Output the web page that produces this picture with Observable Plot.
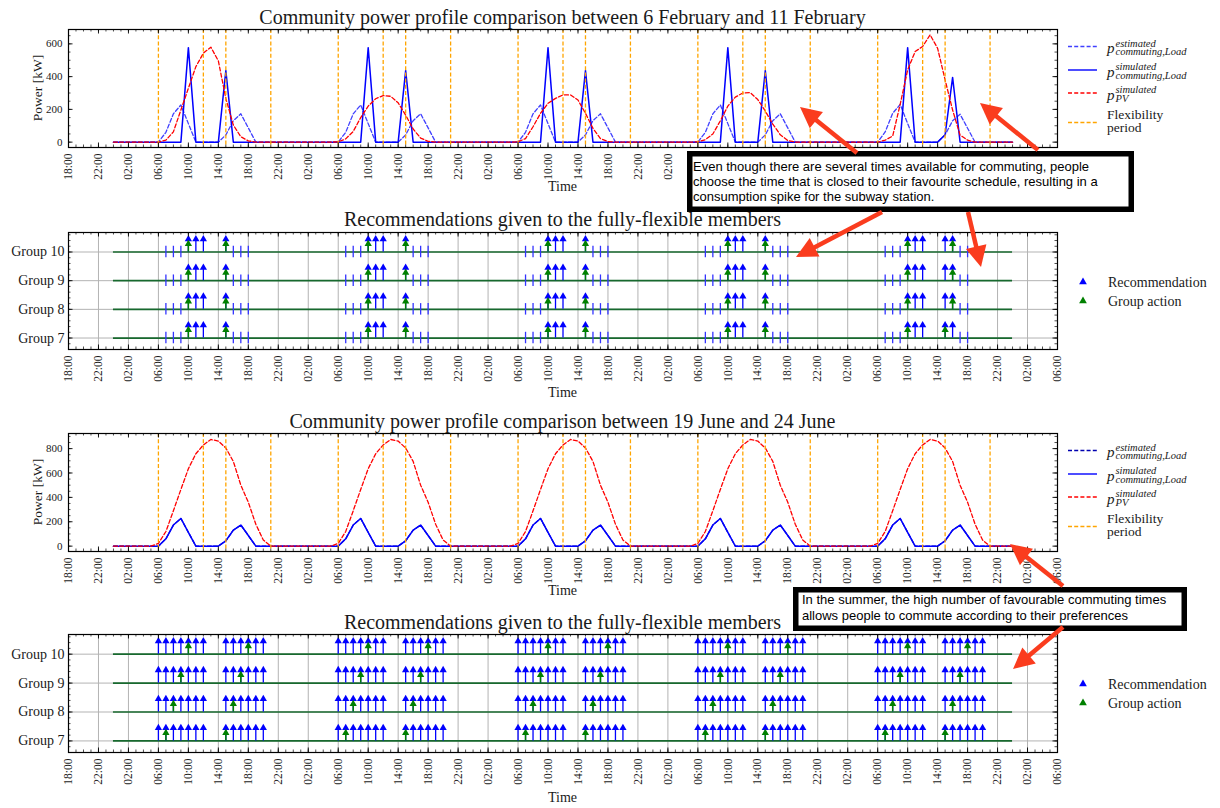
<!DOCTYPE html>
<html><head><meta charset="utf-8">
<script src="https://cdn.jsdelivr.net/npm/d3@7"></script>
<script src="https://cdn.jsdelivr.net/npm/@observablehq/plot@0.6"></script>
<style>
html,body{margin:0;padding:0;background:#fff;}
body{width:1220px;height:808px;position:relative;overflow:hidden;}
svg{font-family:"Liberation Serif",serif;}
</style>
</head><body>
<script>
// ---------------- DATA ----------------
// time = hours since 00:00 of the first day (6 Feb / 19 June)
const timeTickHours = [-6,-2,2,6,10,14,18,22,26,30,34,38,42,46,50,54,58,62,66,70,74,78,82,86,90,94,98,102,106,110,114,118,122,126];
const timeTickLabels = ["18:00","22:00","02:00","06:00","10:00","14:00","18:00","22:00","02:00","06:00","10:00","14:00","18:00","22:00","02:00","06:00","10:00","14:00","18:00","22:00","02:00","06:00","10:00","14:00","18:00","22:00","02:00","06:00","10:00","14:00","18:00","22:00","02:00","06:00"];
const timeDomain = [-6, 126];
const seriesEndHour = 120;      // series run until 00:00 after the 5th day
const seriesEndValue = 0;
const flexibilityHours = [6, 12, 15, 21]; // flexibility period limits each day
const dayCount = 5;

const groups = [7, 8, 9, 10];
const groupLabels = ["Group 7", "Group 8", "Group 9", "Group 10"];
const powerTicksFeb = [0, 200, 400, 600];
const powerTicksJune = [0, 200, 400, 600, 800];

// hourly values (00:00 .. 23:00) per day, kW
const febEstimatedLoad = [
  [0,0,0,0,0,0,0,60,173,227,113,0,0,0,0,44,131,173,87,0,0,0,0,0],
  [0,0,0,0,0,0,0,60,173,227,113,0,0,0,0,44,131,173,87,0,0,0,0,0],
  [0,0,0,0,0,0,0,60,173,227,113,0,0,0,0,44,131,173,87,0,0,0,0,0],
  [0,0,0,0,0,0,0,60,173,227,113,0,0,0,0,44,131,173,87,0,0,0,0,0],
  [0,0,0,0,0,0,0,62,176,230,113,0,0,0,0,44,131,170,85,0,0,0,0,0]
];
const febSimulatedLoad = [
  [0,0,0,0,0,0,0,0,0,0,577,0,0,0,0,437,0,0,0,0,0,0,0,0],
  [0,0,0,0,0,0,0,0,0,0,577,0,0,0,0,437,0,0,0,0,0,0,0,0],
  [0,0,0,0,0,0,0,0,0,0,577,0,0,0,0,437,0,0,0,0,0,0,0,0],
  [0,0,0,0,0,0,0,0,0,0,577,0,0,0,0,437,0,0,0,0,0,0,0,0],
  [0,0,0,0,0,0,0,0,0,0,577,0,0,0,0,45,395,0,0,0,0,0,0,0]
];
const febPV = [
  [0,0,0,0,0,0,0,12,63,196,329,461,543,580,496,267,104,33,8,0,0,0,0,0],
  [0,0,0,0,0,0,2,20,65,150,220,265,284,280,240,165,80,25,5,0,0,0,0,0],
  [0,0,0,0,0,0,2,22,94,176,237,267,288,288,257,176,84,22,3,0,0,0,0,0],
  [0,0,0,0,0,0,2,15,50,130,220,275,300,302,260,190,110,45,10,0,0,0,0,0],
  [0,0,0,0,0,0,0,12,37,230,441,553,584,655,573,380,196,43,12,0,0,0,0,0]
];
const juneEstimatedLoad = [
  [0,0,0,0,0,0,0,60,173,227,113,0,0,0,0,44,131,173,87,0,0,0,0,0],
  [0,0,0,0,0,0,0,60,173,227,113,0,0,0,0,44,131,173,87,0,0,0,0,0],
  [0,0,0,0,0,0,0,60,173,227,113,0,0,0,0,44,131,173,87,0,0,0,0,0],
  [0,0,0,0,0,0,0,60,173,227,113,0,0,0,0,44,131,173,87,0,0,0,0,0],
  [0,0,0,0,0,0,0,60,173,227,113,0,0,0,0,44,131,173,87,0,0,0,0,0]
];
const juneSimulatedLoad = [
  [0,0,0,0,0,0,0,60,173,227,113,0,0,0,0,44,131,173,87,0,0,0,0,0],
  [0,0,0,0,0,0,0,60,173,227,113,0,0,0,0,44,131,173,87,0,0,0,0,0],
  [0,0,0,0,0,0,0,60,173,227,113,0,0,0,0,44,131,173,87,0,0,0,0,0],
  [0,0,0,0,0,0,0,60,173,227,113,0,0,0,0,44,131,173,87,0,0,0,0,0],
  [0,0,0,0,0,0,0,60,173,227,113,0,0,0,0,44,131,173,87,0,0,0,0,0]
];
const junePV = [
  [0,0,0,0,0,0,22,120,290,465,635,758,830,875,862,805,695,500,360,180,50,0,0,0],
  [0,0,0,0,0,0,22,120,290,465,635,758,830,875,862,805,695,500,360,180,50,0,0,0],
  [0,0,0,0,0,0,22,120,290,465,635,758,830,875,862,805,695,500,360,180,50,0,0,0],
  [0,0,0,0,0,0,22,120,290,465,635,758,830,875,862,805,695,500,360,180,50,0,0,0],
  [0,0,0,0,0,0,22,120,290,465,635,758,830,875,862,805,695,500,360,180,50,0,0,0]
];

// recommendation hours per day (same for every group)
const febRecommended = [[10,11,12,15],[10,11,12,15],[10,11,12,15],[10,11,12,15],[10,11,12,15,16]];
const febNotRecommended = [[7,8,9,16,17,18],[7,8,9,16,17,18],[7,8,9,16,17,18],[7,8,9,16,17,18],[7,8,9,17,18]];
const febActionsGroup10 = [[10,15],[10,15],[10,15],[10,15],[10,16]];
const febActionsGroup9  = [[10,15],[10,15],[10,15],[10,15],[10,16]];
const febActionsGroup8  = [[10,15],[10,15],[10,15],[10,15],[10,16]];
const febActionsGroup7  = [[10,15],[10,15],[10,15],[10,15],[10,15]];

const juneRecommended = [
  [6,7,8,9,10,11,12,15,16,17,18,19,20],[6,7,8,9,10,11,12,15,16,17,18,19,20],
  [6,7,8,9,10,11,12,15,16,17,18,19,20],[6,7,8,9,10,11,12,15,16,17,18,19,20],
  [6,7,8,9,10,11,12,15,16,17,18,19,20]];
const juneActionsGroup10 = [[10,18],[10,18],[10,18],[10,18],[10,18]];
const juneActionsGroup9  = [[9,17],[9,17],[9,17],[9,17],[9,17]];
const juneActionsGroup8  = [[8,16],[8,16],[8,16],[8,16],[8,16]];
const juneActionsGroup7  = [[7,15],[7,15],[7,15],[7,15],[7,15]];

const titles = [
  "Community power profile comparison between 6 February and 11 February",
  "Recommendations given to the fully-flexible members",
  "Community power profile comparison between 19 June and 24 June",
  "Recommendations given to the fully-flexible members"
];
const annotation1 = ["Even though there are several times available for commuting, people",
  "choose the time that is closed to their favourite schedule, resulting in a",
  "consumption spike for the subway station."];
const annotation2 = ["In the summer, the high number of favourable commuting times",
  "allows people to commute according to their preferences"];

// ---------------- HELPERS ----------------
function toSeries(days) {
  const pts = [];
  days.forEach((vals, d) => vals.forEach((v, h) => pts.push({t: d * 24 + h, v})));
  pts.push({t: seriesEndHour, v: seriesEndValue});
  return pts;
}
function hourRows(days, g) {
  const rows = [];
  days.forEach((hs, d) => hs.forEach(h => rows.push({t: d * 24 + h, g})));
  return rows;
}
const flexLines = [];
for (let d = 0; d < dayCount; d++) flexibilityHours.forEach(h => flexLines.push(d * 24 + h));
const tickLabelOf = new Map(timeTickHours.map((h, i) => [h, timeTickLabels[i]]));
const minorHours = d3.range(timeDomain[0], timeDomain[1] + 1, 1);

const W = 1220, ML = 68, MR = 163, FW = W - ML - MR;
const MT = 6, MB = 44;
const BLUE = "#0000ff", RED = "#ff0000", ORANGE = "#ffa500", GREEN = "#008000", BASE = "#17692e";

function frameTicks(H, yMajor, yMinor) {
  return [
    Plot.tickX(timeTickHours, {x: d => d, insetTop: H - 4.5, stroke: "#000", strokeWidth: 0.9}),
    Plot.tickX(timeTickHours, {x: d => d, insetBottom: H - 4.5, stroke: "#000", strokeWidth: 0.9}),
    Plot.tickX(minorHours, {x: d => d, insetTop: H - 2.5, stroke: "#000", strokeWidth: 0.7}),
    Plot.tickX(minorHours, {x: d => d, insetBottom: H - 2.5, stroke: "#000", strokeWidth: 0.7}),
    Plot.tickY(yMajor, {y: d => d, insetRight: FW - 4.5, stroke: "#000", strokeWidth: 0.9}),
    Plot.tickY(yMajor, {y: d => d, insetLeft: FW - 4.5, stroke: "#000", strokeWidth: 0.9}),
    Plot.tickY(yMinor, {y: d => d, insetRight: FW - 2.5, stroke: "#000", strokeWidth: 0.7}),
    Plot.tickY(yMinor, {y: d => d, insetLeft: FW - 2.5, stroke: "#000", strokeWidth: 0.7}),
    Plot.frame({stroke: "#000", strokeWidth: 1.2}),
    Plot.axisX(timeTickHours, {anchor: "bottom", tickSize: 0, tickPadding: 6, tickRotate: -90,
      tickFormat: d => tickLabelOf.get(d), label: null, fontSize: 11.5})
  ];
}
function place(svg, top) {
  svg.style.position = "absolute";
  svg.style.left = "0px";
  svg.style.top = (top - MT) + "px";
  document.body.appendChild(svg);
}
function powerPanel(top, H, est, sim, pv, estStyle, yDomain, yMajor) {
  const yMinor = d3.range(0, yDomain[1], 50);
  const svg = Plot.plot({
    width: W, height: MT + H + MB, marginTop: MT, marginBottom: MB, marginLeft: ML, marginRight: MR,
    x: {domain: timeDomain}, y: {domain: yDomain},
    style: {fontFamily: "Liberation Serif, serif", fontSize: "11px", color: "#1a1a1a", background: "transparent", overflow: "visible"},
    marks: [
      Plot.line(toSeries(est), {x: "t", y: "v", stroke: estStyle.color, strokeWidth: 1.3, strokeDasharray: "4,2.2"}),
      Plot.line(toSeries(sim), {x: "t", y: "v", stroke: BLUE, strokeWidth: 1.5}),
      Plot.line(toSeries(pv), {x: "t", y: "v", stroke: RED, strokeWidth: 1.3, strokeDasharray: "4,2.2"}),
      Plot.ruleX(flexLines, {x: d => d, stroke: ORANGE, strokeWidth: 1.3, strokeDasharray: "4,2.2"}),
      ...frameTicks(H, yMajor, yMinor),
      Plot.axisY(yMajor, {anchor: "left", tickSize: 0, tickPadding: 6, label: null, fontSize: 11})
    ]
  });
  place(svg, top);
}
function recPanel(top, H, recommended, notRecommended, actionsByGroup) {
  const yDomain = [6.6, 10.68];
  const yMinor = d3.range(6.6, 10.7, 0.2);
  const recRows = [], notRows = [], actRows = [];
  groups.forEach(g => {
    recRows.push(...hourRows(recommended, g));
    if (notRecommended) notRows.push(...hourRows(notRecommended, g));
    actRows.push(...hourRows(actionsByGroup[g], g));
  });
  const svg = Plot.plot({
    width: W, height: MT + H + MB, marginTop: MT, marginBottom: MB, marginLeft: ML, marginRight: MR,
    x: {domain: timeDomain}, y: {domain: yDomain},
    style: {fontFamily: "Liberation Serif, serif", fontSize: "11px", color: "#1a1a1a", background: "transparent", overflow: "visible"},
    marks: [
      Plot.ruleX(timeTickHours, {x: d => d, stroke: "#b3b3b3", strokeWidth: 1}),
      Plot.ruleY(groups, {y: d => d, stroke: "#b3b3b3", strokeWidth: 1}),
      Plot.ruleY(groups, {y: d => d, x1: 0, x2: seriesEndHour, stroke: BASE, strokeWidth: 1.7}),
      Plot.ruleX(notRows, {x: "t", y1: d => d.g - 0.2, y2: d => d.g + 0.2, stroke: "#3333ff", strokeWidth: 1.3}),
      Plot.ruleX(recRows, {x: "t", y1: "g", y2: d => d.g + 0.45, stroke: BLUE, strokeWidth: 1.3}),
      Plot.dot(recRows, {x: "t", y: d => d.g + 0.45, symbol: "triangle", r: 2.7, fill: BLUE}),
      Plot.ruleX(actRows, {x: "t", y1: "g", y2: d => d.g + 0.28, stroke: GREEN, strokeWidth: 1.5}),
      Plot.dot(actRows, {x: "t", y: d => d.g + 0.28, symbol: "triangle", r: 2.7, fill: GREEN}),
      ...frameTicks(H, groups, yMinor),
      Plot.axisY(groups, {anchor: "left", tickSize: 0, tickPadding: 4, label: null, fontSize: 14,
        tickFormat: d => groupLabels[groups.indexOf(d)]})
    ]
  });
  place(svg, top);
}

// ---------------- PANELS ----------------
const frameTops = [29, 232, 433, 634];
const frameH = 118;
powerPanel(frameTops[0], frameH, febEstimatedLoad, febSimulatedLoad, febPV, {color: "#4040ff"}, [-32.75, 687.75], powerTicksFeb);
recPanel(frameTops[1], 117, febRecommended, febNotRecommended,
  {10: febActionsGroup10, 9: febActionsGroup9, 8: febActionsGroup8, 7: febActionsGroup7});
powerPanel(frameTops[2], frameH, juneEstimatedLoad, juneSimulatedLoad, junePV, {color: "#0000b0"}, [-44, 924], powerTicksJune);
recPanel(frameTops[3], frameH, juneRecommended, null,
  {10: juneActionsGroup10, 9: juneActionsGroup9, 8: juneActionsGroup8, 7: juneActionsGroup7});

// ---------------- OVERLAY: titles, labels, legends, annotations ----------------
const ov = d3.select("body").append("svg")
  .attr("width", 1220).attr("height", 808)
  .style("position", "absolute").style("left", "0px").style("top", "0px")
  .style("font-family", "'Liberation Serif', serif").attr("fill", "#1a1a1a");
const cx = ML + FW / 2;
const titleBase = [23.5, 226, 427.5, 628.5];
titles.forEach((t, i) => ov.append("text").attr("x", cx).attr("y", titleBase[i]).attr("text-anchor", "middle").attr("font-size", 20).text(t));
const timeBase = [190.5, 396.5, 594.5, 801.5];
timeBase.forEach(b => ov.append("text").attr("x", cx).attr("y", b).attr("text-anchor", "middle").attr("font-size", 14).text("Time"));
[0, 2].forEach(i => ov.append("text").attr("transform", `translate(41.5,${frameTops[i] + frameH / 2}) rotate(-90)`)
  .attr("text-anchor", "middle").attr("font-size", 13.5).text("Power [kW]"));

// p with stacked superscript / subscript, as one text element
function mathLabel(x, y, sup, sub) {
  const t = ov.append("text").attr("x", x).attr("y", y + 6.5).attr("font-style", "italic");
  t.append("tspan").attr("font-size", 15).text("p");
  t.append("tspan").attr("x", x + 8.5).attr("dy", -6.2).attr("font-size", 10.5).text(sup);
  t.append("tspan").attr("x", x + 8.5).attr("dy", 8.6).attr("font-size", 10.5).text(sub);
}
function powerLegend(top, estColor) {
  const off = [17.5, 41, 64, 93.5];
  const items = [
    {c: estColor, dash: "4,2.2", sup: "estimated", sub: "commuting,Load"},
    {c: BLUE, dash: null, sup: "simulated", sub: "commuting,Load"},
    {c: RED, dash: "4,2.2", sup: "simulated", sub: "PV"},
    {c: ORANGE, dash: "4,2.2"}
  ];
  items.forEach((it, i) => {
    const y = top + off[i];
    ov.append("line").attr("x1", 1068).attr("x2", 1097).attr("y1", y).attr("y2", y)
      .attr("stroke", it.c).attr("stroke-width", 1.4).attr("stroke-dasharray", it.dash);
    if (it.sup) mathLabel(1107, y, it.sup, it.sub);
    else {
      ov.append("text").attr("x", 1107).attr("y", y - 4).attr("font-size", 13.5).text("Flexibility");
      ov.append("text").attr("x", 1107).attr("y", y + 9.5).attr("font-size", 13.5).text("period");
    }
  });
}
powerLegend(frameTops[0], "#4040ff");
powerLegend(frameTops[2], "#0000b0");
const tri = d3.symbol(d3.symbolTriangle, 26)();
function recLegend(top) {
  [["Recommendation", BLUE, 50], ["Group action", GREEN, 69]].forEach(([t, c, o]) => {
    ov.append("path").attr("d", tri).attr("transform", `translate(1083,${top + o})`).attr("fill", c);
    ov.append("text").attr("x", 1108).attr("y", top + o + 4.5).attr("font-size", 14).text(t);
  });
}
recLegend(frameTops[1]);
recLegend(frameTops[3]);

function box(x0, y0, x1, y1, lines, tx, ty0, dy, fs) {
  ov.append("rect").attr("x", x0 + 2.75).attr("y", y0 + 2.75).attr("width", x1 - x0 - 5.5).attr("height", y1 - y0 - 5.5)
    .attr("fill", "#fff").attr("stroke", "#000").attr("stroke-width", 5.5);
  const t = ov.append("text").attr("x", tx).attr("y", ty0)
    .attr("font-family", "'Liberation Sans', Arial, sans-serif").attr("font-size", fs).attr("fill", "#000");
  lines.forEach((l, i) => t.append("tspan").attr("x", tx).attr("dy", i ? dy : 0).text(l));
}
function arrow(x0, y0, x1, y1) {
  const dx = x1 - x0, dy = y1 - y0, L = Math.hypot(dx, dy), ux = dx / L, uy = dy / L;
  const hl = 21, hw = 10.5;
  const bx = x1 - ux * hl, by = y1 - uy * hl;
  ov.append("line").attr("x1", x0).attr("y1", y0).attr("x2", bx + ux * 2).attr("y2", by + uy * 2)
    .attr("stroke", "#fa3c1e").attr("stroke-width", 4.5);
  ov.append("path").attr("d", `M${x1},${y1}L${bx - uy * hw},${by + ux * hw}L${bx + uy * hw},${by - ux * hw}Z`).attr("fill", "#fa3c1e");
}
box(687, 151, 1134, 212, annotation1, 693, 170.7, 15.3, 13);
arrow(857, 153, 800, 107);
arrow(1038, 150, 980, 103);
arrow(882, 212, 796, 257);
arrow(968, 212, 981, 267);
box(793, 587, 1187, 631, annotation2, 802, 604.3, 15.6, 13);
arrow(1063, 586, 1010, 544);
arrow(1063, 627, 1013, 669);
</script>
</body></html>
